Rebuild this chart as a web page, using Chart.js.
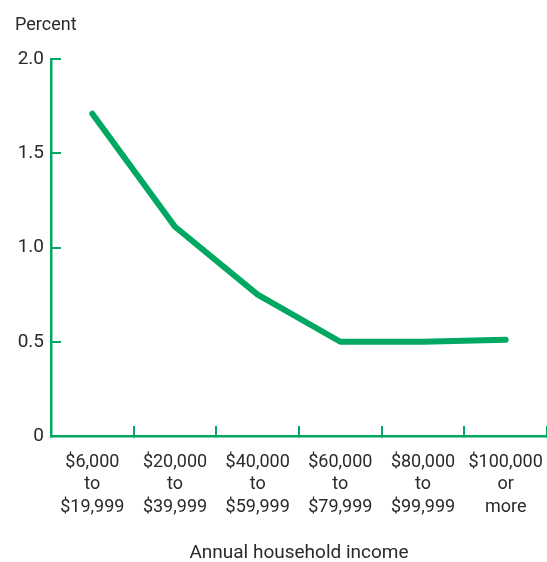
<!DOCTYPE html>
<html>
<head>
<meta charset="utf-8">
<script src="https://cdn.jsdelivr.net/npm/chart.js@4"></script>
<style>
html,body{margin:0;padding:0;background:#fff;}
#wrap{width:547px;height:562px;}
</style>
</head>
<body>
<div id="wrap"><canvas id="c" width="547" height="562"></canvas></div>
<script>
const categories = [
  ["$6,000", "to", "$19,999"],
  ["$20,000", "to", "$39,999"],
  ["$40,000", "to", "$59,999"],
  ["$60,000", "to", "$79,999"],
  ["$80,000", "to", "$99,999"],
  ["$100,000", "or", "more"]
];
const percentValues = [1.71, 1.11, 0.75, 0.50, 0.50, 0.51];
const yTickValues = [0, 0.5, 1.0, 1.5, 2.0];
const yAxisTitle = "Percent";
const xAxisTitle = "Annual household income";

const GREEN = '#00a862';
const TEXT = '#2a2a2a';
const FONT = "'Liberation Sans Narrow', 'Roboto', sans-serif";

const yTitlePlugin = {
  id: 'yTitle',
  afterDraw(chart) {
    const ctx = chart.ctx;
    ctx.save();
    ctx.font = "18px " + FONT;
    ctx.fillStyle = TEXT;
    ctx.textAlign = 'left';
    ctx.textBaseline = 'middle';
    ctx.fillText(yAxisTitle, 15, 25);
    ctx.restore();
  }
};

new Chart(document.getElementById('c'), {
  type: 'line',
  data: {
    labels: categories,
    datasets: [{
      data: percentValues,
      borderColor: GREEN,
      borderWidth: 6,
      borderCapStyle: 'round',
      borderJoinStyle: 'round',
      pointRadius: 0,
      tension: 0,
      fill: false
    }]
  },
  options: {
    responsive: false,
    animation: false,
    devicePixelRatio: 1,
    layout: { padding: { top: 59, left: 0, right: 0, bottom: 0 } },
    plugins: { legend: { display: false }, tooltip: { enabled: false }, title: { display: false } },
    scales: {
      x: {
        type: 'category',
        offset: true,
        afterFit(scale) { scale.height = 126; scale.paddingLeft = 0; scale.paddingRight = 0; },
        border: { display: true, color: GREEN, width: 2.5 },
        grid: {
          offset: true,
          drawOnChartArea: false,
          drawTicks: true,
          tickLength: -10,
          color: GREEN,
          lineWidth: 2
        },
        ticks: {
          autoSkip: false,
          maxRotation: 0,
          minRotation: 0,
          padding: 25,
          color: TEXT,
          font: { family: FONT, size: 18, lineHeight: 1.25 }
        },
        title: {
          display: true,
          text: xAxisTitle,
          color: TEXT,
          padding: { top: 0, bottom: -3 },
          font: { family: FONT, size: 19, lineHeight: 1.2 }
        }
      },
      y: {
        min: 0,
        max: 2.0,
        afterFit(scale) { scale.width = 51; scale.paddingTop = 0; scale.paddingBottom = 0; },
        afterBuildTicks(scale) { scale.ticks = yTickValues.map(v => ({ value: v })); },
        border: { display: true, color: GREEN, width: 2.5 },
        grid: {
          drawOnChartArea: false,
          drawTicks: true,
          tickLength: -10,
          color: GREEN,
          lineWidth: 2
        },
        ticks: {
          padding: 17,
          color: TEXT,
          font: { family: FONT, size: 19 },
          callback: (v) => v === 0 ? '0' : v.toFixed(1)
        }
      }
    }
  },
  plugins: [yTitlePlugin]
});
</script>
</body>
</html>
